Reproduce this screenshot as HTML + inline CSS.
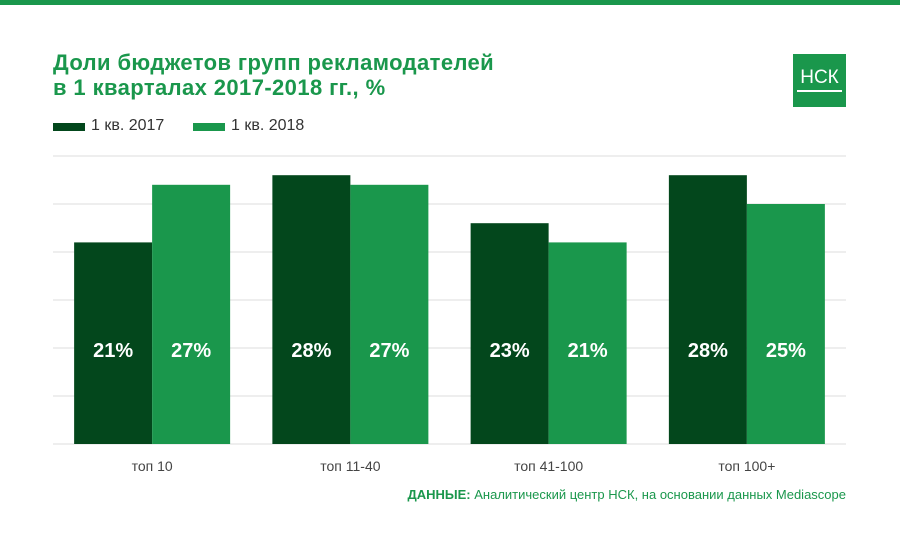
<!DOCTYPE html>
<html><head><meta charset="utf-8"><style>
body{margin:0;width:900px;height:534px;background:#fff;font-family:"Liberation Sans",sans-serif;overflow:hidden;position:relative}
.t{position:absolute;left:53px;top:50px;font-weight:bold;font-size:22px;letter-spacing:0.4px;line-height:25px;color:#1a974c}
.leg{position:absolute;top:117px;font-size:16px;color:#333}
.sw{position:absolute;width:32px;height:8px;top:123px}
</style></head><body>
<div style="position:absolute;left:0;top:0;width:900px;height:5px;background:#1a974c"></div>
<div class="t">Доли бюджетов групп рекламодателей<br>в 1 кварталах 2017-2018 гг., %</div>
<div style="position:absolute;left:793px;top:54px;width:53px;height:53px;background:#1a974c;color:#fff;font-size:19px;text-align:center;line-height:48px">НСК<div style="position:absolute;left:4px;right:4px;top:36px;height:2px;background:#fff"></div></div>
<div class="sw" style="left:53px;background:#03471c"></div>
<div class="leg" style="left:91px">1 кв. 2017</div>
<div class="sw" style="left:193px;background:#1a974c"></div>
<div class="leg" style="left:231px">1 кв. 2018</div>
<svg id="c" width="900" height="534" style="position:absolute;left:0;top:0"></svg>
<div style="position:absolute;right:54px;top:487px;font-size:13px;color:#1a974c"><b>ДАННЫЕ:</b> Аналитический центр НСК, на основании данных Mediascope</div>
<script>
const categories=["топ 10","топ 11-40","топ 41-100","топ 100+"];
const values2017=[21,28,23,28];
const values2018=[27,27,21,25];
const labels2017=["21%","28%","23%","28%"];
const labels2018=["27%","27%","21%","25%"];
const ticks=[0,5,10,15,20,25,30];
const svg=document.getElementById('c');const NS='http://www.w3.org/2000/svg';
const x0=53,x1=846,y0=444,yTop=156,max=30;
const y=v=>y0-(y0-yTop)*v/max;
const bw=(x1-x0)/categories.length;
function mk(t,a){const e=document.createElementNS(NS,t);for(const k in a)e.setAttribute(k,a[k]);svg.appendChild(e);return e;}
ticks.forEach(t=>{const l=mk('line',{x1:x0,x2:x1,y1:y(t),y2:y(t),stroke:'#dcdcdc','stroke-width':1});

});
categories.forEach((c,i)=>{const cx=x0+bw*(i+.5);
[[values2017,labels2017,'#03471c',-78,'2017'],[values2018,labels2018,'#1a974c',0,'2018']].forEach(([vs,ls,col,off,yr])=>{
const r=mk('rect',{x:cx+off,y:y(vs[i]),width:78,height:y0-y(vs[i]),fill:col});


const tx=mk('text',{x:cx+off+39,y:357,'text-anchor':'middle','font-size':20,'font-weight':'bold',fill:'#fff','font-family':'Liberation Sans'});tx.textContent=ls[i];

});
const cl=mk('text',{x:cx,y:471,'text-anchor':'middle','font-size':14,fill:'#444','font-family':'Liberation Sans'});cl.textContent=c;

});
</script>
</body></html>
